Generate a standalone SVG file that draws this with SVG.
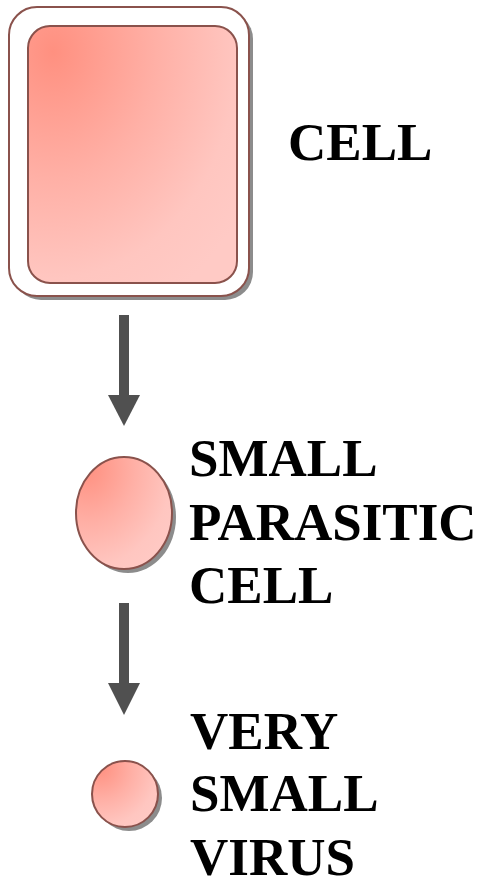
<svg xmlns="http://www.w3.org/2000/svg" width="484" height="882" viewBox="0 0 484 882">
<defs>
<radialGradient id="fill" cx="0.12" cy="0.1" r="1.1" fx="0.12" fy="0.1">
<stop offset="0" stop-color="#ff9080"/>
<stop offset="0.45" stop-color="#ffb0a6"/>
<stop offset="0.8" stop-color="#ffc6c0"/>
<stop offset="1" stop-color="#ffcac5"/>
</radialGradient>
<marker id="head" viewBox="0 0 32 32" markerWidth="32" markerHeight="32" refX="16" refY="0" orient="auto" markerUnits="userSpaceOnUse">
<path d="M0,0 L32,0 L16,32 Z" fill="#505050"/>
</marker>
</defs>
<style>
.shadow{fill:#8c8c8c;}
.shape{stroke:#8a524c;stroke-width:2;}
.label{font-family:"Liberation Serif","Times New Roman",serif;font-weight:bold;font-size:53px;fill:#000;}
.conn{fill:#505050;}
</style>
<rect width="484" height="882" fill="#ffffff"/>
<g id="cell">
<rect class="shadow" x="13" y="11" width="240" height="289" rx="28"/>
<rect class="shape" x="9" y="7" width="240" height="289" rx="28" fill="#ffffff"/>
<rect class="shape" x="28" y="26" width="209" height="257" rx="22" fill="url(#fill)"/>
<text class="label" x="288" y="160">CELL</text>
</g>
<g id="parasitic">
<ellipse class="shadow" cx="128" cy="517" rx="48" ry="56"/>
<ellipse class="shape" cx="124" cy="513" rx="48" ry="56" fill="url(#fill)"/>
<text class="label" x="189" y="476">SMALL</text>
<text class="label" x="189" y="540">PARASITIC</text>
<text class="label" x="189" y="603">CELL</text>
</g>
<g id="virus">
<circle class="shadow" cx="129" cy="798" r="33"/>
<circle class="shape" cx="125" cy="794" r="33" fill="url(#fill)"/>
<text class="label" x="190" y="749">VERY</text>
<text class="label" x="190" y="811">SMALL</text>
<text class="label" x="190" y="875">VIRUS</text>
</g>
<g id="connectors">
<rect class="conn" x="119" y="315" width="10" height="81"/>
<path class="conn" d="M108,395 L140,395 L124,426 Z"/>
<rect class="conn" x="119" y="603" width="10" height="81"/>
<path class="conn" d="M108,683 L140,683 L124,715 Z"/>
</g>
</svg>
